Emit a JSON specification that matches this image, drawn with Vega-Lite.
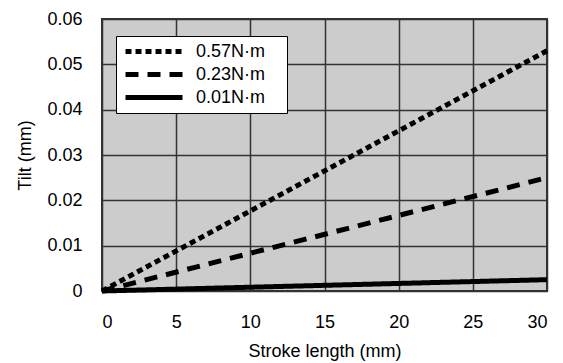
{
  "$schema": "https://vega.github.io/schema/vega-lite/v6.json",
  "width": 445,
  "height": 272,
  "autosize": {"type": "none"},
  "padding": {"left": 102, "top": 19, "right": 16, "bottom": 72},
  "background": "white",
  "config": {
    "font": "Liberation Sans",
    "view": {"fill": "#cccccc", "stroke": "#333333", "strokeWidth": 2},
    "axis": {
      "domain": false,
      "ticks": false,
      "grid": true,
      "gridColor": "#333333",
      "gridWidth": 1.5,
      "gridOpacity": 1,
      "labelFont": "Liberation Sans",
      "labelFontSize": 18,
      "labelColor": "black",
      "titleFont": "Liberation Sans",
      "titleFontSize": 18,
      "titleFontWeight": "normal",
      "titleColor": "black"
    }
  },
  "data": {
    "values": [
      {"series": "0.57N·m", "stroke": 0, "tilt": 0},
      {"series": "0.57N·m", "stroke": 30, "tilt": 0.053},
      {"series": "0.23N·m", "stroke": 0, "tilt": 0},
      {"series": "0.23N·m", "stroke": 30, "tilt": 0.025},
      {"series": "0.01N·m", "stroke": 0, "tilt": 0},
      {"series": "0.01N·m", "stroke": 30, "tilt": 0.0025}
    ]
  },
  "mark": {"type": "line", "strokeWidth": 5, "color": "black", "strokeCap": "butt", "clip": false},
  "encoding": {
    "x": {
      "field": "stroke",
      "type": "quantitative",
      "scale": {"domain": [0, 30], "nice": false, "zero": false},
      "axis": {
        "values": [0, 5, 10, 15, 20, 25, 30],
        "title": "Stroke length (mm)",
        "labelPadding": 22,
        "titleY": 51
      }
    },
    "y": {
      "field": "tilt",
      "type": "quantitative",
      "scale": {"domain": [0, 0.06], "nice": false},
      "axis": {
        "values": [0, 0.01, 0.02, 0.03, 0.04, 0.05, 0.06],
        "labelExpr": "datum.value == 0 ? '0' : format(datum.value, '.2f')",
        "labelPadding": 20,
        "title": "Tilt (mm)",
        "titlePadding": 12
      }
    },
    "strokeDash": {
      "field": "series",
      "type": "nominal",
      "scale": {
        "domain": ["0.57N·m", "0.23N·m", "0.01N·m"],
        "range": [[6, 4], [13, 9], [1, 0]]
      },
      "legend": {
        "title": "\u00a0",
        "titleOrient": "right",
        "titlePadding": 18,
        "titleFontSize": 4,
        "orient": "none",
        "legendX": 14,
        "legendY": 17,
        "fillColor": "white",
        "strokeColor": "black",
        "padding": 4,
        "symbolType": "stroke",
        "symbolSize": 3249,
        "symbolStrokeWidth": 5,
        "symbolStrokeColor": "black",
        "symbolOffset": 3,
        "clipHeight": 23,
        "rowPadding": 0,
        "labelFont": "Liberation Sans",
        "labelFontSize": 18,
        "labelColor": "black",
        "labelOffset": 11
      }
    }
  }
}
